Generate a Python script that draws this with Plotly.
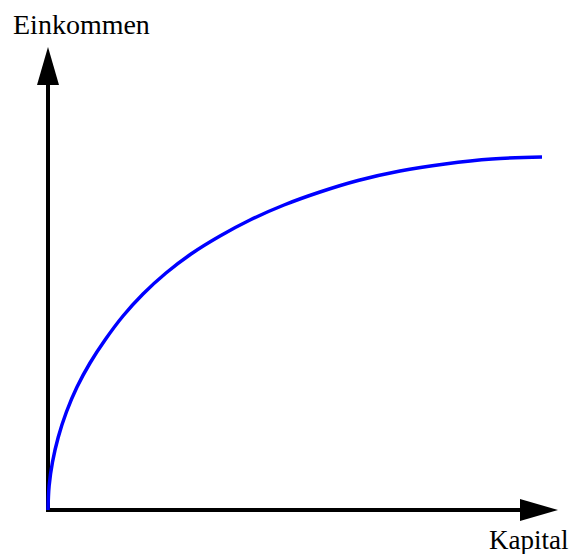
import plotly.graph_objects as go

# Data (arbitrary units, origin at axis cross)
kapital = [0, 1.1, 4.5, 10.3, 18.4, 29, 42, 57, 75, 95, 118, 143, 172, 202,
           236, 272, 310, 352, 397, 444, 494]
einkommen = [0, 24, 48, 73, 98, 123, 147, 170, 194, 216, 237, 256, 274, 290,
             305, 318, 329.5, 339, 346, 351, 353]

x_label = "Kapital"
y_label = "Einkommen"

X_END = 510   # tip of x arrow
Y_END = 463   # tip of y arrow
HEAD_LEN = 38
HEAD_HALF = 11

fig = go.Figure()
fig.add_trace(go.Scatter(x=kapital, y=einkommen, mode="lines",
                         line=dict(color="#0000ff", width=3.5, shape="spline", smoothing=1.0),
                         hoverinfo="skip", showlegend=False))

shapes = [
    dict(type="line", x0=0, y0=-2, x1=0, y1=Y_END - HEAD_LEN + 2,
         line=dict(color="black", width=4), layer="below"),
    dict(type="line", x0=-2, y0=0, x1=X_END - HEAD_LEN + 2, y1=0,
         line=dict(color="black", width=4), layer="below"),
    dict(type="path",
         path=f"M {-HEAD_HALF},{Y_END-HEAD_LEN} L 0,{Y_END} L {HEAD_HALF},{Y_END-HEAD_LEN} Z",
         fillcolor="black", line=dict(color="black", width=0)),
    dict(type="path",
         path=f"M {X_END-HEAD_LEN},{HEAD_HALF} L {X_END},0 L {X_END-HEAD_LEN},{-HEAD_HALF} Z",
         fillcolor="black", line=dict(color="black", width=0)),
]

annotations = [
    dict(text=y_label, x=-37, y=485.5, xref="x", yref="y", xanchor="left", yanchor="middle",
         showarrow=False, font=dict(family="Liberation Serif", size=28, color="black")),
    dict(text=x_label, x=438.5, y=-29.5, xref="x", yref="y", xanchor="left", yanchor="middle",
         showarrow=False, font=dict(family="Liberation Serif", size=27, color="black")),
]

fig.update_layout(
    width=572, height=554,
    margin=dict(l=0, r=0, t=0, b=0),
    paper_bgcolor="white", plot_bgcolor="white",
    xaxis=dict(range=[-48, 524], visible=False, fixedrange=True),
    yaxis=dict(range=[-44, 510], visible=False, fixedrange=True),
    shapes=shapes, annotations=annotations,
)

fig.write_html("out.html", config={"displayModeBar": False},
               post_script="document.body.style.margin='0';document.body.style.overflow='hidden';")
